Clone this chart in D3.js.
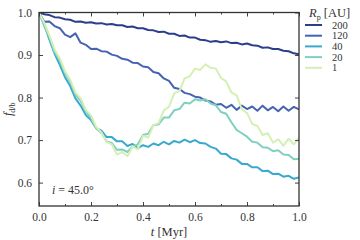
<!DOCTYPE html>
<html lang="en">
<head>
  <meta charset="UTF-8">
  <title>f_d/b vs t</title>
  <script src="https://d3js.org/d3.v7.min.js"></script>
  <style>
    body { margin: 0; background: #fff; }
  </style>
</head>
<body>
  <svg id="chart" width="360" height="240"></svg>
  <script>
    // time grid in Myr, step 0.02
    const times = d3.range(0, 51).map(i => +(i * 0.02).toFixed(2));

    const labels = ["200", "120", "40", "20", "1"];
    const colors = ["#2b3e8c", "#4563b2", "#3aa9cf", "#80d0c0", "#d5efb4"];

    const rp200 = [1.0, .996, .994, .989, .988, .984, .983, .978, .979, .976, .977, .974, .975, .972, .973, .970, .970, .966, .967, .963, .963, .959, .958, .954, .955, .950, .950, .945, .946, .941, .941, .936, .935, .931, .933, .930, .932, .928, .929, .925, .927, .923, .922, .917, .918, .914, .914, .910, .909, .904, .902];
    const rp120 = [1.0, .978, .979, .968, .963, .948, .942, .951, .929, .924, .914, .915, .909, .908, .901, .898, .891, .889, .882, .881, .873, .871, .860, .857, .845, .839, .823, .820, .811, .808, .802, .800, .793, .791, .783, .785, .776, .783, .771, .781, .773, .779, .769, .781, .770, .778, .768, .779, .769, .778, .772];
    const rp40 = [1.0, .972, .936, .903, .877, .848, .827, .798, .781, .759, .747, .728, .722, .707, .707, .697, .697, .686, .691, .681, .688, .684, .692, .688, .696, .690, .698, .694, .701, .695, .700, .693, .692, .684, .680, .668, .667, .657, .654, .644, .644, .636, .636, .627, .628, .620, .621, .614, .616, .609, .612];
    const rp20 = [1.0, .968, .942, .907, .887, .857, .837, .807, .792, .768, .752, .727, .717, .697, .693, .677, .678, .672, .685, .690, .712, .715, .735, .737, .753, .753, .770, .773, .788, .786, .796, .793, .796, .786, .782, .766, .762, .742, .724, .716, .708, .696, .694, .683, .682, .674, .676, .666, .665, .655, .656];
    const rp1 = [1.0, .976, .946, .913, .892, .862, .842, .812, .798, .771, .758, .731, .718, .696, .690, .666, .672, .662, .685, .678, .710, .706, .735, .740, .770, .778, .810, .815, .845, .850, .868, .865, .878, .870, .868, .846, .838, .812, .805, .772, .764, .738, .733, .712, .716, .694, .702, .687, .703, .690, .706];

    const series = [rp200, rp120, rp40, rp20, rp1];

    const tTicks = [0, 0.2, 0.4, 0.6, 0.8, 1.0];
    const fTicks = [0.6, 0.7, 0.8, 0.9, 1.0];

    const FONT = "Liberation Serif";
    const margin = { left: 39, right: 61, top: 12.5, bottom: 34 };
    const W = 360, H = 240;
    const svg = d3.select("#chart");

    const x = d3.scaleLinear().domain([0, 1]).range([margin.left, W - margin.right]);
    const y = d3.scaleLinear().domain([0.545, 1.0]).range([H - margin.bottom, margin.top]);

    svg.append("clipPath").attr("id", "clip")
      .append("rect")
      .attr("x", x(0)).attr("y", y(1.0))
      .attr("width", x(1) - x(0)).attr("height", y(0.545) - y(1.0));

    const line = d3.line().x((d, i) => x(times[i])).y(d => y(d));

    const lines = svg.append("g").attr("clip-path", "url(#clip)");
    series.forEach((s, k) => {
      lines.append("path")
        .datum(s)
        .attr("fill", "none")
        .attr("stroke", colors[k])
        .attr("stroke-width", 2)
        .attr("stroke-linejoin", "round")
        .attr("d", line);
    });

    // axes (ticks point inward, on all four sides)
    const minorT = d3.range(0, 11).map(i => i / 10);
    const axisStyle = g => {
      g.attr("font-family", FONT);
      g.select(".domain").remove();
      g.selectAll("line").attr("stroke", "#444");
      g.selectAll("text").attr("font-size", 11.5).attr("font-family", FONT).attr("fill", "#333");
    };

    svg.append("g").attr("transform", `translate(0,${y(0.545)})`)
      .call(d3.axisBottom(x).tickValues(minorT).tickSize(-2).tickFormat(""))
      .call(axisStyle);
    svg.append("g").attr("transform", `translate(0,${y(0.545)})`)
      .call(d3.axisBottom(x).tickValues(tTicks).tickSize(-4).tickPadding(7).tickFormat(d3.format(".1f")))
      .call(axisStyle);
    svg.append("g").attr("transform", `translate(0,${y(1.0)})`)
      .call(d3.axisTop(x).tickValues(minorT).tickSize(-2).tickFormat(""))
      .call(axisStyle);
    svg.append("g").attr("transform", `translate(0,${y(1.0)})`)
      .call(d3.axisTop(x).tickValues(tTicks).tickSize(-4).tickFormat(""))
      .call(axisStyle);
    svg.append("g").attr("transform", `translate(${x(0)},0)`)
      .call(d3.axisLeft(y).tickValues(fTicks).tickSize(-4).tickPadding(7).tickFormat(d3.format(".1f")))
      .call(axisStyle);
    svg.append("g").attr("transform", `translate(${x(1)},0)`)
      .call(d3.axisRight(y).tickValues(fTicks).tickSize(-4).tickFormat(""))
      .call(axisStyle);

    // frame
    svg.append("rect")
      .attr("x", x(0)).attr("y", y(1.0))
      .attr("width", x(1) - x(0)).attr("height", y(0.545) - y(1.0))
      .attr("fill", "none").attr("stroke", "#333").attr("stroke-width", 1.3);

    const txt = (g) => g.append("text").attr("font-family", FONT).attr("fill", "#333");

    // axis labels
    const xl = txt(svg)
      .attr("x", (x(0) + x(1)) / 2).attr("y", 236)
      .attr("text-anchor", "middle").attr("font-size", 12.5);
    xl.append("tspan").attr("font-style", "italic").text("t");
    xl.append("tspan").text(" [Myr]");

    const yl = txt(svg)
      .attr("transform", `translate(12,${(y(1.0) + y(0.545)) / 2}) rotate(-90)`)
      .attr("text-anchor", "middle").attr("font-size", 12.5);
    yl.append("tspan").attr("font-style", "italic").text("f");
    yl.append("tspan").attr("font-size", 8).attr("dy", 3).text("d/b");

    const il = txt(svg).attr("x", 52).attr("y", 194).attr("font-size", 12);
    il.append("tspan").attr("font-style", "italic").text("i");
    il.append("tspan").text(" = 45.0°");

    // legend
    const lg = svg.append("g");
    const lt = txt(lg).attr("x", 309).attr("y", 17).attr("font-size", 12.5);
    lt.append("tspan").attr("font-style", "italic").text("R");
    lt.append("tspan").attr("font-size", 8).attr("dy", 3).text("p");
    lt.append("tspan").attr("dy", -3).text(" [AU]");

    labels.forEach((lab, k) => {
      const yy = 25 + k * 10.7;
      lg.append("line")
        .attr("x1", 305).attr("x2", 322).attr("y1", yy).attr("y2", yy)
        .attr("stroke", colors[k]).attr("stroke-width", 2);
      txt(lg).attr("x", 332).attr("y", yy + 3.5).attr("font-size", 10.5).text(lab);
    });
  </script>
</body>
</html>
